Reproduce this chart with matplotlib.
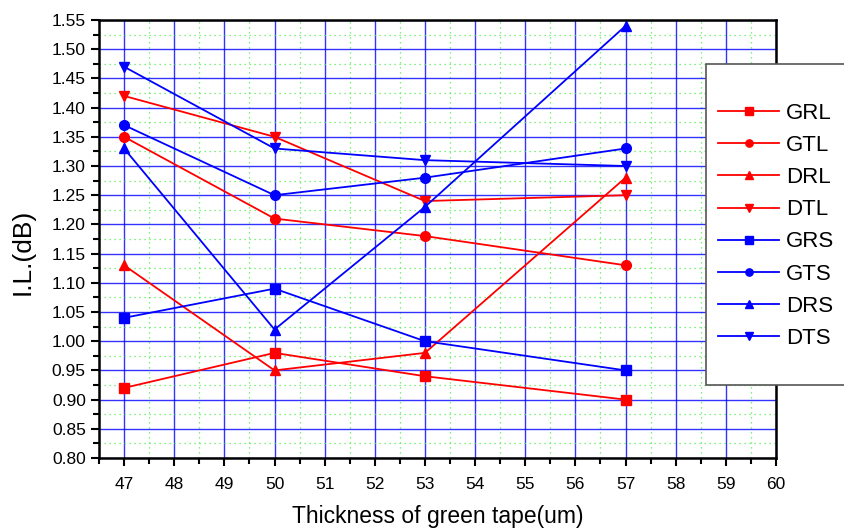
import matplotlib
matplotlib.use('Agg')
import matplotlib.pyplot as plt
from matplotlib.ticker import MultipleLocator, FormatStrFormatter
from matplotlib.patches import Rectangle

plt.rcParams['font.family'] = ['Liberation Sans', 'DejaVu Sans']

# Data
thickness = [47, 50, 53, 57]
series_names = ['GRL', 'GTL', 'DRL', 'DTL', 'GRS', 'GTS', 'DRS', 'DTS']
grl = [0.92, 0.98, 0.94, 0.90]
gtl = [1.35, 1.21, 1.18, 1.13]
drl = [1.13, 0.95, 0.98, 1.28]
dtl = [1.42, 1.35, 1.24, 1.25]
grs = [1.04, 1.09, 1.00, 0.95]
gts = [1.37, 1.25, 1.28, 1.33]
drs = [1.33, 1.02, 1.23, 1.54]
dts = [1.47, 1.33, 1.31, 1.30]

series = [grl, gtl, drl, dtl, grs, gts, drs, dts]
colors = ['#ff0000'] * 4 + ['#0000ff'] * 4
markers = ['s', 'o', '^', 'v'] * 2

W, H = 844, 532
fig = plt.figure(figsize=(W / 100, H / 100), dpi=100)
ax = fig.add_axes([99 / W, 1 - 458 / H, (776 - 99) / W, (458 - 20) / H])

for vals, name, c, m in zip(series, series_names, colors, markers):
    ax.plot(thickness, vals, color=c, marker=m, markersize=7, linewidth=1.3, label=name)

ax.set_xlim(46.5, 60)
ax.set_ylim(0.80, 1.55)
ax.xaxis.set_major_locator(MultipleLocator(1))
ax.xaxis.set_minor_locator(MultipleLocator(0.5))
ax.yaxis.set_major_locator(MultipleLocator(0.05))
ax.yaxis.set_minor_locator(MultipleLocator(0.025))
ax.yaxis.set_major_formatter(FormatStrFormatter('%.2f'))

ax.grid(which='major', color='#0000ff', linewidth=1.0, alpha=0.8)
ax.grid(which='minor', color='#55ee55', linestyle=(0, (1, 3)), linewidth=0.9)
ax.set_axisbelow(True)

ax.tick_params(which='both', direction='out', top=False, right=False, width=1.5)
ax.tick_params(which='major', length=6, labelsize=12.5)
ax.tick_params(axis='x', which='major', pad=8)
ax.tick_params(which='minor', length=4)
for sp in ax.spines.values():
    sp.set_linewidth(1.8)

ax.set_xlabel('Thickness of green tape(um)', fontsize=16.5, va='center')
ax.xaxis.set_label_coords(0.5, -(517 - 458) / 438)
ax.set_ylabel('I.L.(dB)', fontsize=19, va='center')
ax.yaxis.set_label_coords((23 - 99) / 677, (458 - 252) / 438)

# legend box (runs off the right edge of the figure)
fig.patches.append(Rectangle((706 / W, 1 - 385 / H), 200 / W, (385 - 64) / H,
                             transform=fig.transFigure, facecolor='white',
                             edgecolor='#555555', linewidth=1.2, zorder=5))
handles, labels = ax.get_legend_handles_labels()
leg = fig.legend(handles, labels, loc='upper left', bbox_to_anchor=(718 / W, 1 - 103 / H),
                 fontsize=16, handlelength=2.75, handletextpad=0.3, labelspacing=0.5,
                 markerscale=0.75, frameon=False, borderpad=0, borderaxespad=0)
leg.set_zorder(6)

fig.savefig('out.png', dpi=100)
